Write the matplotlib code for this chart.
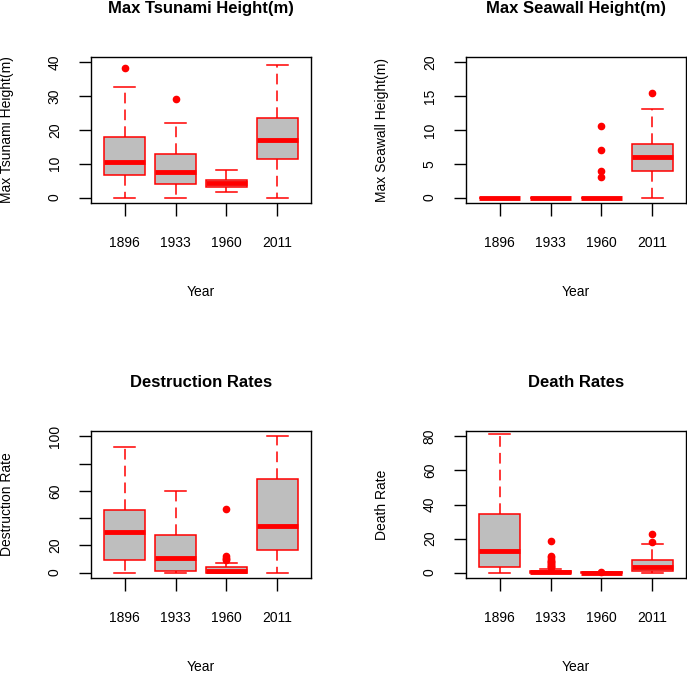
import numpy as np
import matplotlib
matplotlib.use("Agg")
import matplotlib.pyplot as plt

plt.rcParams['font.family'] = ['Liberation Sans', 'DejaVu Sans']

years = ["1896", "1933", "1960", "2011"]

# box summaries: whislo, q1, med, q3, whishi
tsunami_whislo = [0.0, 0.0, 1.7, 0.0]
tsunami_q1 = [6.6, 4.1, 3.1, 11.4]
tsunami_med = [10.6, 7.6, 4.4, 17.1]
tsunami_q3 = [17.9, 12.9, 5.3, 23.6]
tsunami_whishi = [32.7, 22.0, 8.1, 39.2]
tsunami_fliers = [[38.2], [29.1], [], []]

seawall_whislo = [0.0, 0.0, 0.0, 0.0]
seawall_q1 = [0.0, 0.0, 0.0, 4.0]
seawall_med = [0.0, 0.0, 0.0, 6.0]
seawall_q3 = [0.0, 0.0, 0.0, 7.9]
seawall_whishi = [0.0, 0.0, 0.0, 13.1]
seawall_fliers = [[], [], [3.0, 4.0, 7.0, 10.6], [15.5]]

destr_whislo = [0.0, 0.0, 0.0, 0.0]
destr_q1 = [9.4, 1.5, 0.0, 16.3]
destr_med = [30.0, 10.8, 1.0, 34.5]
destr_q3 = [45.6, 27.3, 3.9, 69.0]
destr_whishi = [92.4, 60.1, 6.7, 100.0]
destr_fliers = [[], [], [9.0, 10.0, 11.0, 12.0, 46.7], []]

death_whislo = [0.0, 0.0, 0.0, 0.0]
death_q1 = [3.5, 0.0, 0.0, 1.0]
death_med = [12.8, 0.3, 0.0, 3.3]
death_q3 = [34.7, 1.0, 0.3, 7.6]
death_whishi = [81.6, 2.2, 0.3, 17.0]
death_fliers = [[], [3.0, 3.5, 4.0, 4.5, 5.0, 5.5, 6.0, 6.5, 7.0, 8.0, 9.0, 10.0, 18.6], [0.4], [17.7, 22.8]]

W, H = 687, 674
fig = plt.figure(figsize=(W / 100, H / 100), dpi=100)

RED = "#ff0000"
GREY = "#bebebe"


def panel(rect_px, lo, q1, med, q3, hi, fliers, title, ylabel, ylim, yticks, ylabels):
    x0, y0, x1, y1 = rect_px
    ax = fig.add_axes([x0 / W, 1 - y1 / H, (x1 - x0) / W, (y1 - y0) / H])
    stats = []
    for i in range(4):
        stats.append(dict(whislo=lo[i], q1=q1[i], med=med[i], q3=q3[i],
                          whishi=hi[i], fliers=fliers[i]))
    ax.bxp(stats, positions=[1, 2, 3, 4], widths=0.8, capwidths=0.4,
           patch_artist=True,
           boxprops=dict(facecolor=GREY, edgecolor=RED, linewidth=1.1),
           medianprops=dict(color=RED, linewidth=3.5, solid_capstyle='butt'),
           whiskerprops=dict(color=RED, linewidth=1.1, linestyle=(0, (7, 4))),
           capprops=dict(color=RED, linewidth=1.1),
           flierprops=dict(marker='o', markerfacecolor=RED, markeredgecolor=RED,
                           markersize=4.5, linestyle='none'))
    ax.set_xlim(0.34, 4.66)
    ax.set_ylim(*ylim)
    ax.set_xticks([1, 2, 3, 4])
    ax.set_xticklabels(years, fontsize=10)
    ax.set_yticks(yticks)
    ax.set_yticklabels(ylabels, fontsize=10, rotation=90, va='center')
    ax.tick_params(axis='both', direction='out', length=9, width=1.0, color='black')
    ax.tick_params(axis='x', pad=15)
    ax.tick_params(axis='y', pad=12)
    for s in ax.spines.values():
        s.set_linewidth(1.0)
    h = y1 - y0
    w = x1 - x0
    ax.text(0.5, 1 + 44 / h, title, transform=ax.transAxes, ha='center',
            va='baseline', fontsize=12, fontweight='bold')
    ax.text(0.5, -93 / h, "Year", transform=ax.transAxes, ha='center',
            va='baseline', fontsize=10)
    ax.text(-84 / w, 0.5, ylabel, transform=ax.transAxes, ha='center',
            va='center', rotation=90, fontsize=10)
    return ax


panel((91, 57, 311, 203), tsunami_whislo, tsunami_q1, tsunami_med, tsunami_q3,
      tsunami_whishi, tsunami_fliers, "Max Tsunami Height(m)", "Max Tsunami Height(m)",
      (-1.6, 41.6), [0, 10, 20, 30, 40], ["0", "10", "20", "30", "40"])
panel((466, 57, 686, 203), seawall_whislo, seawall_q1, seawall_med, seawall_q3,
      seawall_whishi, seawall_fliers, "Max Seawall Height(m)", "Max Seawall Height(m)",
      (-0.8, 20.8), [0, 5, 10, 15, 20], ["0", "5", "10", "15", "20"])
panel((91, 431, 311, 578), destr_whislo, destr_q1, destr_med, destr_q3,
      destr_whishi, destr_fliers, "Destruction Rates", "Destruction Rate",
      (-4, 104), [0, 20, 40, 60, 80, 100], ["0", "20", "", "60", "", "100"])
panel((466, 431, 686, 578), death_whislo, death_q1, death_med, death_q3,
      death_whishi, death_fliers, "Death Rates", "Death Rate",
      (-3.2, 83.2), [0, 20, 40, 60, 80], ["0", "20", "40", "60", "80"])

fig.savefig("out.png", dpi=100)
